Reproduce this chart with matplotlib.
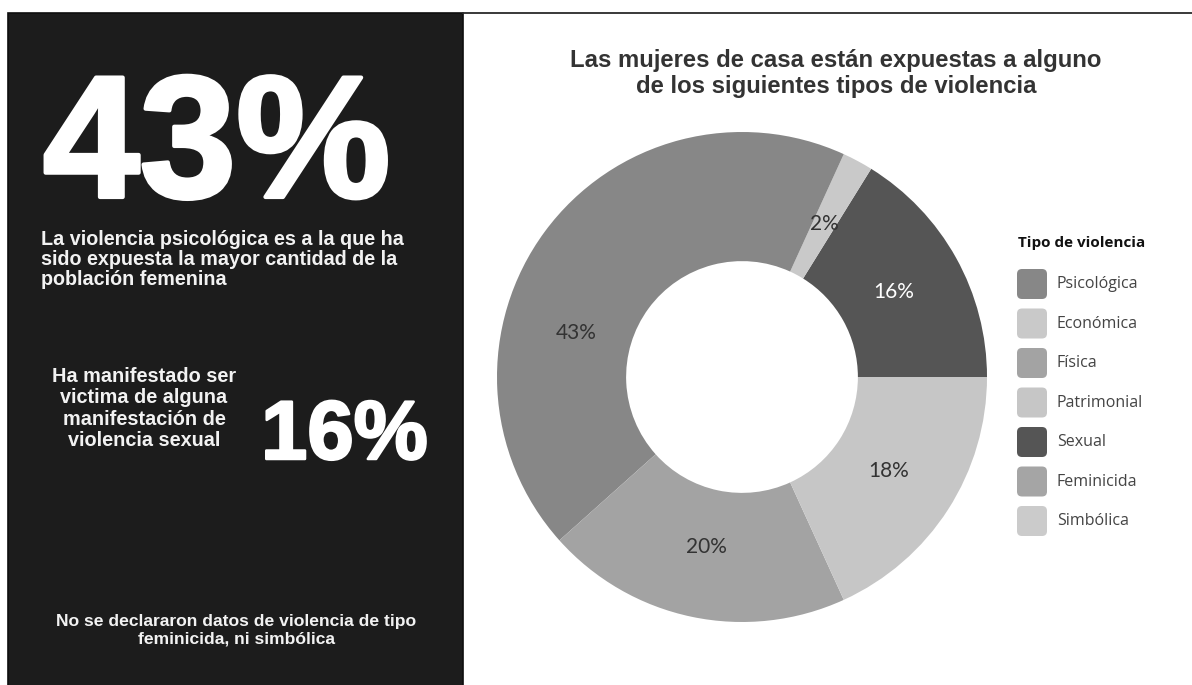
import numpy as np
import matplotlib.pyplot as plt
import matplotlib.patheffects as pe
from matplotlib.patches import Rectangle, FancyBboxPatch

# datos
tipos = ['Psicológica', 'Económica', 'Física', 'Patrimonial', 'Sexual', 'Feminicida', 'Simbólica']
porcentajes = [43, 2, 20, 18, 16, 0, 0]
colores = ['#878787', '#c9c9c9', '#a3a3a3', '#c6c6c6', '#555555', '#a5a5a5', '#cbcbcb']
# orden en que aparecen las porciones (antihorario desde las 3)
orden = ['Sexual', 'Económica', 'Psicológica', 'Física', 'Patrimonial']

titulo = ['Las mujeres de casa están expuestas a alguno',
          'de los siguientes tipos de violencia']
texto1 = ['La violencia psicológica es a la que ha',
          'sido expuesta la mayor cantidad de la',
          'población femenina']
texto2 = ['Ha manifestado ser', 'victima de alguna', 'manifestación de', 'violencia sexual']
texto3 = ['No se declararon datos de violencia de tipo', 'feminicida, ni simbólica']
dato_grande1 = '43%'
dato_grande2 = '16%'

W, H = 1192, 685
fig = plt.figure(figsize=(W / 100, H / 100), dpi=100)
fig.patch.set_facecolor('white')

# capa de fondo en pixeles
bg = fig.add_axes([0, 0, 1, 1])
bg.set_xlim(0, W)
bg.set_ylim(H, 0)
bg.axis('off')

bg.add_patch(Rectangle((8, 13), 455, 680, facecolor='#1c1c1c', edgecolor='#0e0e0e', lw=1.2))
bg.plot([463, W], [13, 13], color='#2a2a2a', lw=1.3)

arial = 'Liberation Sans'
bg.text(43, 197, dato_grande1, color='white', fontsize=125, fontweight='bold',
        family=arial, ha='left', va='baseline',
        path_effects=[pe.withStroke(linewidth=3, foreground='white')])
for i, s in enumerate(texto1):
    bg.text(41, 245 + i * 20, s, color='#f2f2f2', fontsize=14.2, fontweight='bold',
            family=arial, ha='left', va='baseline')
for i, s in enumerate(texto2):
    bg.text(144, 382 + i * 21.3, s, color='#f2f2f2', fontsize=14.3, fontweight='bold',
            family=arial, ha='center', va='baseline')
bg.text(261, 459, dato_grande2, color='white', fontsize=60, fontweight='bold',
        family=arial, ha='left', va='baseline',
        path_effects=[pe.withStroke(linewidth=1.8, foreground='white')])
for i, s in enumerate(texto3):
    bg.text(236, 626 + i * 17, s, color='#f2f2f2', fontsize=12.6, fontweight='bold',
            family=arial, ha='center', va='baseline')

for i, s in enumerate(titulo):
    bg.text(836, 67 + i * 26, s, color='#333333', fontsize=17.2, fontweight='bold',
            family=arial, ha='center', va='baseline')

# leyenda
bg.text(1018, 247, 'Tipo de violencia', color='#111111', fontsize=11, fontweight='bold',
        family='Open Sans', ha='left', va='baseline')
for i, (t, c) in enumerate(zip(tipos, colores)):
    yc = 284 + i * 39.5
    bg.add_patch(FancyBboxPatch((1019, yc - 13), 26, 26,
                                boxstyle='round,pad=2,rounding_size=5',
                                facecolor=c, edgecolor='none'))
    bg.text(1057, yc, t, color='#444444', fontsize=11.5, family='Open Sans',
            ha='left', va='center')

# dona
cx, cy, r = 742, 377, 245
ax = fig.add_axes([(cx - r) / W, (H - cy - r) / H, 2 * r / W, 2 * r / H])
vals = [porcentajes[tipos.index(t)] for t in orden]
cols = [colores[tipos.index(t)] for t in orden]
wedges, _, autotexts = ax.pie(vals, colors=cols, startangle=0, counterclock=True,
                              autopct='%d%%', pctdistance=0.71,
                              wedgeprops=dict(width=0.527, linewidth=0))
for t, txt in zip(orden, autotexts):
    txt.set_text('%d%%' % porcentajes[tipos.index(t)])
    txt.set_fontsize(15)
    txt.set_family('Lato')
    txt.set_color('white' if t == 'Sexual' else '#333333')
    if t == 'Psicológica':
        # la etiqueta grande va mas abajo en el original
        a = np.deg2rad(165)
        txt.set_position((0.70 * np.cos(a), 0.70 * np.sin(a)))
ax.set_xlim(-1, 1)
ax.set_ylim(-1, 1)
ax.set_aspect('equal')

plt.savefig('out.png', dpi=100)
